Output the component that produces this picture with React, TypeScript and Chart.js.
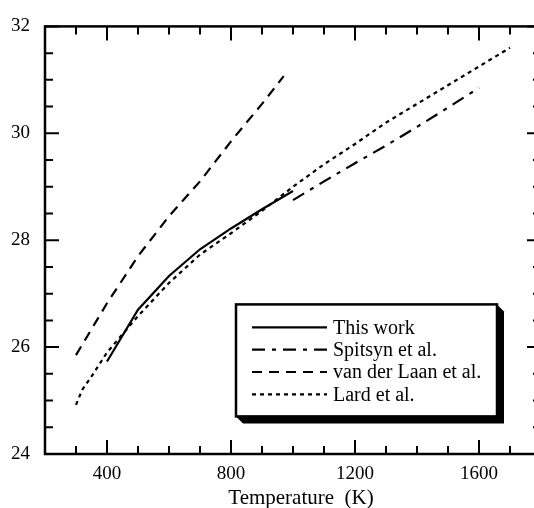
import React, { useEffect, useRef } from "react";
import { Chart, registerables } from "chart.js";

Chart.register(...registerables);

const FONT = '"Liberation Serif", "Times New Roman", serif';

const seriesLabels = ["This work", "Spitsyn et al.", "van der Laan et al.", "Lard et al."];

const thisWorkT = [400, 500, 600, 700, 800, 900, 1000];
const thisWorkV = [25.73, 26.7, 27.33, 27.83, 28.22, 28.58, 28.92];

const spitsynT = [1000, 1100, 1200, 1300, 1400, 1500, 1600];
const spitsynV = [28.75, 29.1, 29.44, 29.77, 30.12, 30.48, 30.85];

const vanDerLaanT = [300, 400, 500, 600, 700, 800, 900, 970];
const vanDerLaanV = [25.85, 26.82, 27.7, 28.45, 29.1, 29.85, 30.55, 31.07];

const lardT = [300, 320, 350, 400, 500, 600, 700, 800, 900, 1000, 1100, 1200, 1300, 1400, 1500, 1600, 1700];
const lardV = [24.92, 25.2, 25.45, 25.9, 26.58, 27.2, 27.73, 28.13, 28.55, 29.0, 29.42, 29.8, 30.2, 30.55, 30.9, 31.25, 31.6];

const xTickLabels = [400, 800, 1200, 1600];
const yTickLabels = [24, 26, 28, 30, 32];
const xMinorStep = 100;
const yMinorStep = 0.5;

const dashes = [[], [13, 7, 4, 7], [10, 7], [4, 4]];

const toPts = (t: number[], v: number[]) => t.map((x, i) => ({ x, y: v[i] }));

const framePlugin = {
  id: "frameLegend",
  afterDraw(chart: any) {
    const ctx = chart.ctx;
    const { left, right, top, bottom } = chart.chartArea;
    const xs = chart.scales.x;
    const ys = chart.scales.y;
    ctx.save();
    ctx.strokeStyle = "#000";
    ctx.fillStyle = "#000";
    ctx.setLineDash([]);
    // frame
    ctx.lineWidth = 2.5;
    ctx.strokeRect(left, top, right - left, bottom - top);
    // ticks
    ctx.lineWidth = 2;
    ctx.beginPath();
    for (let v = xs.min; v <= xs.max + 1e-6; v += xMinorStep) {
      const px = xs.getPixelForValue(v);
      const len = xTickLabels.includes(v) ? 14 : 8;
      ctx.moveTo(px, bottom);
      ctx.lineTo(px, bottom - len);
      ctx.moveTo(px, top);
      ctx.lineTo(px, top + len);
    }
    for (let v = ys.min; v <= ys.max + 1e-6; v += yMinorStep) {
      const py = ys.getPixelForValue(v);
      const len = yTickLabels.includes(v) ? 14 : 8;
      ctx.moveTo(left, py);
      ctx.lineTo(left + len, py);
      ctx.moveTo(right, py);
      ctx.lineTo(right - len, py);
    }
    ctx.stroke();

    // axis title
    ctx.font = `21px ${FONT}`;
    ctx.textAlign = "center";
    ctx.textBaseline = "alphabetic";
    ctx.fillText("Temperature  (K)", left + 256, bottom + 50);

    // legend
    const bx = left + 191;
    const by = top + 278;
    const bw = 261;
    const bh = 112;
    const sh = 7;
    ctx.beginPath();
    ctx.moveTo(bx + bw, by);
    ctx.lineTo(bx + bw + sh, by + sh);
    ctx.lineTo(bx + bw + sh, by + bh + sh);
    ctx.lineTo(bx + sh, by + bh + sh);
    ctx.lineTo(bx, by + bh);
    ctx.closePath();
    ctx.fill();
    ctx.fillStyle = "#fff";
    ctx.fillRect(bx, by, bw, bh);
    ctx.fillStyle = "#000";
    ctx.lineWidth = 2.5;
    ctx.strokeRect(bx, by, bw, bh);

    ctx.font = `20px ${FONT}`;
    ctx.textAlign = "left";
    ctx.textBaseline = "middle";
    chart.data.datasets.forEach((ds: any, i: number) => {
      const ry = by + 23 + i * 22.3;
      ctx.lineWidth = 2.2;
      ctx.setLineDash(ds.borderDash || []);
      ctx.beginPath();
      ctx.moveTo(bx + 16, ry);
      ctx.lineTo(bx + 91, ry);
      ctx.stroke();
      ctx.setLineDash([]);
      ctx.fillText(ds.label, bx + 97, ry + 1);
    });
    ctx.restore();
  },
};

export default function App() {
  const ref = useRef<HTMLCanvasElement>(null);
  useEffect(() => {
    if (!ref.current) return;
    const series = [
      toPts(thisWorkT, thisWorkV),
      toPts(spitsynT, spitsynV),
      toPts(vanDerLaanT, vanDerLaanV),
      toPts(lardT, lardV),
    ];
    const chart = new Chart(ref.current, {
      type: "line",
      data: {
        datasets: series.map((d, i) => ({
          label: seriesLabels[i],
          data: d,
          borderColor: "#000",
          borderWidth: 2.2,
          borderDash: dashes[i],
          pointRadius: 0,
          fill: false,
          tension: 0,
        })),
      },
      options: {
        responsive: false,
        animation: false,
        layout: { padding: { top: 20, right: 19, left: 0, bottom: 0 } },
        plugins: { legend: { display: false }, tooltip: { enabled: false } },
        scales: {
          x: {
            type: "linear",
            min: 200,
            max: 1800,
            afterBuildTicks: (s: any) => {
              s.ticks = xTickLabels.map((v) => ({ value: v }));
            },
            afterFit: (s: any) => {
              s.height = 54;
            },
            grid: { display: false, drawTicks: false },
            border: { display: false },
            ticks: {
              color: "#000",
              font: { family: FONT, size: 19 },
              padding: 9,
              maxRotation: 0,
              autoSkip: false,
              callback: (v: any) => String(v),
            },
          },
          y: {
            type: "linear",
            min: 24,
            max: 32,
            afterBuildTicks: (s: any) => {
              s.ticks = yTickLabels.map((v) => ({ value: v }));
            },
            afterFit: (s: any) => {
              s.width = 45;
            },
            grid: { display: false, drawTicks: false },
            border: { display: false },
            ticks: {
              color: "#000",
              font: { family: FONT, size: 19 },
              padding: 15,
              autoSkip: false,
              callback: (v: any) => String(v),
            },
          },
        },
      },
      plugins: [framePlugin],
    });
    return () => chart.destroy();
  }, []);
  return (
    <div
      style={{
        position: "absolute",
        left: 0,
        top: 0,
        width: 534,
        height: 508,
        overflow: "hidden",
        background: "#fff",
      }}
    >
      <canvas ref={ref} width={560} height={508} style={{ width: 560, height: 508, display: "block" }} />
    </div>
  );
}
